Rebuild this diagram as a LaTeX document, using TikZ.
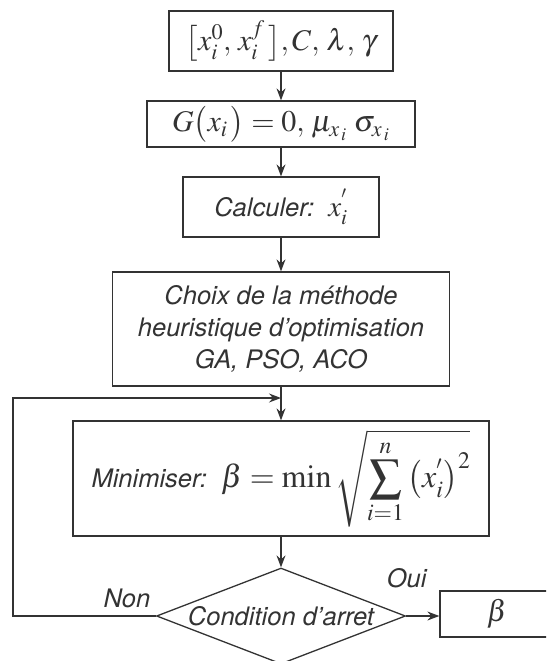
\documentclass[tikz,border=0pt]{standalone}
\usepackage{mathptmx}
\usepackage[no-math]{fontspec}
\setsansfont{TeX Gyre Heros}
\usetikzlibrary{arrows.meta,shapes.geometric}
\definecolor{ink}{HTML}{333333}
\newcommand{\bigmath}[1]{{\fontsize{32}{38}\selectfont$\displaystyle #1$}}

\begin{document}
\begin{tikzpicture}[x=1pt, y=-1pt, line width=1.3pt, color=ink,
		every node/.style={font=\fontsize{25.5}{32}\selectfont\sffamily\itshape},
		eqn/.style={font=\fontsize{30}{36}\selectfont},
		box/.style={draw, rectangle, inner sep=0pt, align=center},
		test/.style={draw, diamond, inner sep=0pt, minimum width=249pt, minimum height=96pt},
		flow/.style={-{Stealth[length=12pt, width=9pt, inset=4pt]}}]
		\clip (0,0) rectangle (546,661);
		\node[box, eqn, minimum width=224pt, minimum height=60pt] (init) at (281,41) {$\bigl[x_i^0,\, x_i^f\,\bigr], C,\, \lambda,\, \gamma$};
		\node[box, eqn, minimum width=268pt, minimum height=46pt] (lsf) at (281,124) {$G\bigl(x_i\,\bigr)=0,\, \mu_{x_{\,i}}\;\sigma_{x_{\,i}}$};
		\node[box, minimum width=196pt, minimum height=60pt] (calc) at (281,207) {Calculer:\ \ {\fontsize{29}{34}\selectfont$x_i^{'}$}};
		\node[box, minimum width=337pt, minimum height=114pt] (choix) at (281,329) {Choix de la méthode\\heuristique d’optimisation\\GA, PSO, ACO};
		\node[box, minimum width=416pt, minimum height=115pt] (mini) at (281,478.5) {Minimiser:\ \ \bigmath{\beta=\min\sqrt{\sum_{i=1}^{n}\left(x_i^{'}\right)^2}}};
		\node[test, label=center:Condition d’arret] (stop) at (281,616) {};
		\node[box, eqn, minimum width=114pt, minimum height=46pt] (beta) at (497,614) {$\beta$};
		\node[anchor=base east, inner sep=0pt] (non) at ([xshift=-5pt, yshift=9pt]stop.west) {Non};
		\node[anchor=base west, inner sep=0pt] (oui) at ([xshift=-20pt, yshift=29pt]stop.east) {Oui};
		\coordinate (back) at (13,398);
		\coordinate (join) at (281,398);
		\draw[flow] (init) -- (lsf);
		\draw[flow] (lsf) -- (calc);
		\draw[flow] (calc) -- (choix);
		\draw[flow] (choix) -- (mini);
		\draw[flow] (mini) -- (stop);
		\draw[flow] (stop.east) -- (stop.east -| beta.west);
		\draw[flow] (stop.west) -| (back) -- (join);
	\end{tikzpicture}
\end{document}
